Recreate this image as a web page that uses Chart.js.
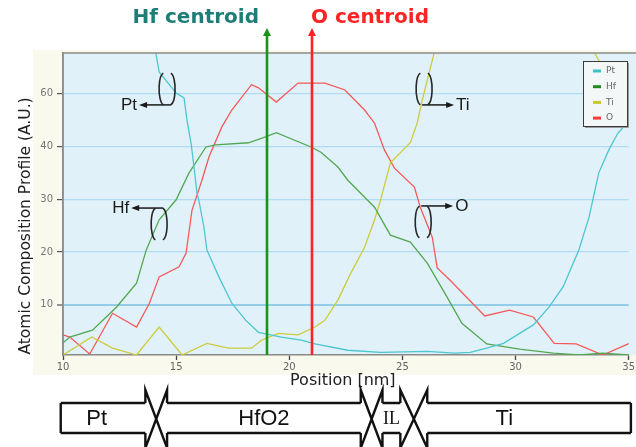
<!DOCTYPE html>
<html>
<head>
<meta charset="utf-8">
<script src="https://cdn.jsdelivr.net/npm/chart.js@4/dist/chart.umd.min.js"></script>
<style>
  html, body { margin: 0; padding: 0; background: #ffffff; }
  canvas { display: block; }
</style>
</head>
<body>
<canvas id="c" width="636" height="447"></canvas>
<script>
// Depth profiles: position (nm) and atomic composition (A.U.) per element
const ptPos = [13.6, 14.25, 15.0, 15.35, 15.48, 15.66, 15.79, 15.92, 16.0, 16.23, 16.36, 16.89, 17.46, 18.07, 18.64, 19.65, 20.53, 21.14, 22.59, 24.04, 26.1, 27.28, 28.0, 28.73, 29.47, 30.79, 31.49, 32.1, 32.8, 33.25, 33.68, 34.12, 34.52, 35.13];
const ptVal = [70, 54.1, 50.1, 49.2, 45.0, 40.6, 36.1, 31.2, 29.9, 24.7, 20.4, 15.3, 10.3, 7.1, 4.8, 3.9, 3.3, 2.6, 1.4, 1.0, 1.2, 0.85, 1.0, 1.8, 2.7, 6.2, 9.6, 13.4, 20.4, 26.6, 35.0, 39.3, 42.5, 45.4];

const hfPos = [10.0, 10.3, 11.3, 12.37, 13.25, 13.68, 14.25, 15.0, 15.57, 16.32, 16.75, 18.2, 18.95, 19.43, 20.96, 21.4, 22.15, 22.59, 23.77, 24.47, 25.35, 26.1, 26.97, 27.63, 28.73, 30.18, 31.67, 32.8, 33.86, 35.0];
const hfVal = [2.8, 3.9, 5.2, 9.6, 14.1, 20.4, 26.1, 29.9, 35.0, 39.9, 40.3, 40.7, 41.8, 42.6, 39.9, 38.9, 36.1, 33.6, 28.5, 23.2, 21.9, 17.9, 11.5, 6.5, 2.6, 1.6, 0.85, 0.5, 0.85, 0.5];

const tiPos = [10.0, 11.27, 12.19, 13.25, 14.25, 15.26, 16.36, 17.32, 18.33, 18.77, 19.52, 20.39, 21.14, 21.58, 22.15, 22.72, 23.33, 23.77, 24.04, 24.47, 25.35, 25.66, 25.88, 26.4, 30.0, 35.0];
const tiVal = [0.5, 3.9, 1.8, 0.5, 5.8, 0.5, 2.7, 1.8, 1.8, 3.3, 4.6, 4.3, 5.8, 7.1, 10.9, 16.0, 20.9, 26.1, 29.9, 36.9, 40.7, 44.5, 48.8, 57.7, 85, 46.0];

const oPos = [10.0, 10.3, 11.18, 12.19, 13.25, 13.82, 14.25, 15.13, 15.44, 15.7, 16.14, 16.45, 17.02, 17.46, 18.33, 18.64, 19.43, 20.39, 21.58, 22.46, 23.33, 23.77, 24.21, 24.65, 25.53, 25.79, 26.32, 26.54, 27.1, 28.64, 29.74, 30.79, 31.71, 32.68, 33.86, 35.13];
const oVal = [4.3, 3.9, 0.7, 8.4, 5.8, 10.3, 15.3, 17.2, 19.8, 27.9, 33.6, 38.0, 43.7, 46.9, 51.7, 51.1, 48.4, 52.0, 52.0, 50.7, 46.9, 44.4, 39.3, 35.9, 32.3, 28.5, 22.8, 17.0, 14.7, 7.9, 9.0, 7.7, 2.7, 2.6, 0.5, 2.9];

// Axis ticks
const xTicks = [10, 15, 20, 25, 30, 35];
const yTickValues = [10, 20, 30, 40, 50];
const yTickLabels = ['10', '20', '30', '40', '60'];

// Centroid positions (nm)
const hfCentroid = 19;
const oCentroid = 21;

// Layer stack under the axis: names and boundaries (nm)
const layerNames = ['Pt', 'HfO2', 'IL', 'Ti'];
const layerEdges = [9.9, 13.64, 14.6, 23.16, 24.12, 24.91, 26.1, 35.1];

// Element call-outs: [label, x (nm), y (A.U.), direction, arrow on top?]
const callouts = [
  ['Pt', 14.6, 50.9, -1, false],
  ['Hf', 14.25, 25.3, -1, true],
  ['Ti', 25.96, 50.9, 1, false],
  ['O', 25.92, 25.7, 1, true]
];

const series = [
  { label: 'Pt', pos: ptPos, val: ptVal, color: '#4cc6cf', key: '#3cc0c8' },
  { label: 'Hf', pos: hfPos, val: hfVal, color: '#52a852', key: '#1f8a1f' },
  { label: 'Ti', pos: tiPos, val: tiVal, color: '#cccc3c', key: '#c8c828' },
  { label: 'O',  pos: oPos,  val: oVal,  color: '#f45a5a', key: '#ff3a3a' }
];

const toPoints = (xs, ys) => xs.map((x, i) => ({ x: x, y: ys[i] }));

const DJ = '"DejaVu Sans", sans-serif';
const LS = '"Liberation Sans", Arial, sans-serif';

const backdrop = {
  id: 'backdrop',
  beforeDraw(chart) {
    const { ctx, chartArea: a } = chart;
    ctx.save();
    ctx.fillStyle = '#ffffff';
    ctx.fillRect(0, 0, chart.width, chart.height);
    ctx.fillStyle = '#f9f9ee';
    ctx.fillRect(33, 50, chart.width - 33, 325);
    ctx.fillStyle = '#e1f1fa';
    ctx.fillRect(a.left, a.top, chart.width - a.left, a.bottom - a.top);
    ctx.restore();
  }
};

function arrowHead(ctx, x, y, dx, dy, len, half) {
  // tip at (x,y), pointing along (dx,dy)
  const px = -dy, py = dx;
  ctx.beginPath();
  ctx.moveTo(x, y);
  ctx.lineTo(x - dx * len + px * half, y - dy * len + py * half);
  ctx.lineTo(x - dx * len - px * half, y - dy * len - py * half);
  ctx.closePath();
  ctx.fill();
}

const overlay = {
  id: 'overlay',
  afterDatasetsDraw(chart) {
    const { ctx, chartArea: a, scales: { x, y } } = chart;
    ctx.save();

    // frame on top and left
    ctx.strokeStyle = '#8a8a8a';
    ctx.lineWidth = 1.5;
    ctx.beginPath();
    ctx.moveTo(a.left, a.bottom);
    ctx.lineTo(a.left, a.top);
    ctx.lineTo(chart.width, a.top);
    ctx.stroke();

    // call-outs: "( )" loop with arrow to element name
    ctx.strokeStyle = '#262626';
    ctx.fillStyle = '#1a1a1a';
    ctx.lineWidth = 1.6;
    callouts.forEach(([name, cx, cy, dir, onTop]) => {
      const px = x.getPixelForValue(cx);
      const py = y.getPixelForValue(cy);
      const h = 16;
      ctx.beginPath();
      ctx.ellipse(px - 3, py, 5, h, 0, Math.PI * 0.55, Math.PI * 1.45);
      ctx.stroke();
      ctx.beginPath();
      ctx.ellipse(px + 3, py, 5, h, 0, -Math.PI * 0.45, Math.PI * 0.45);
      ctx.stroke();
      const ay = onTop ? py - h : py + h;
      const sx = dir < 0 ? px + 4 : px - 2;
      const ex = sx + dir * 32;
      ctx.beginPath();
      ctx.moveTo(sx, ay);
      ctx.lineTo(ex - dir * 6, ay);
      ctx.stroke();
      arrowHead(ctx, ex, ay, dir, 0, 8, 3);
      ctx.font = '17px ' + LS;
      ctx.textBaseline = 'middle';
      ctx.textAlign = dir < 0 ? 'right' : 'left';
      ctx.fillText(name, ex + dir * 2, ay);
    });

    // centroid markers
    const cent = [
      [hfCentroid, '#1b931b', '#1e7d76', 'Hf centroid', 'right', -8],
      [oCentroid, '#ff2424', '#ff2424', 'O centroid', 'left', -1]
    ];
    cent.forEach(([v, lc, tc, text, align, off]) => {
      const px = Math.round(x.getPixelForValue(v));
      ctx.strokeStyle = lc;
      ctx.fillStyle = lc;
      ctx.lineWidth = 2.6;
      ctx.beginPath();
      ctx.moveTo(px, a.bottom);
      ctx.lineTo(px, 34);
      ctx.stroke();
      arrowHead(ctx, px, 28, 0, -1, 8, 4);
      ctx.fillStyle = tc;
      ctx.font = 'bold 20px ' + DJ;
      ctx.textAlign = align;
      ctx.textBaseline = 'middle';
      ctx.fillText(text, px + off, 18);
    });

    // legend box
    const lx = 583, ly = 61, lw = 44, lh = 65;
    ctx.fillStyle = '#f4f7f8';
    ctx.fillRect(lx, ly, lw, lh);
    ctx.strokeStyle = '#3a3a3a';
    ctx.lineWidth = 1;
    ctx.strokeRect(lx + 0.5, ly + 0.5, lw, lh);
    ctx.strokeStyle = '#9a9a9a';
    ctx.beginPath();
    ctx.moveTo(lx + 2, ly + lh + 1.5);
    ctx.lineTo(lx + lw + 1.5, ly + lh + 1.5);
    ctx.lineTo(lx + lw + 1.5, ly + 2);
    ctx.stroke();
    ctx.font = '9px ' + DJ;
    ctx.textAlign = 'left';
    ctx.textBaseline = 'middle';
    series.forEach((s, i) => {
      const ry = ly + 10 + i * 15.7;
      ctx.strokeStyle = s.key;
      ctx.lineWidth = 3;
      ctx.beginPath();
      ctx.moveTo(lx + 10, ry);
      ctx.lineTo(lx + 18, ry);
      ctx.stroke();
      ctx.fillStyle = '#666666';
      ctx.fillText(s.label, lx + 23, ry);
    });

    ctx.restore();
  },
  afterDraw(chart) {
    const { ctx, chartArea: a, scales: { x } } = chart;
    ctx.save();

    // axis titles
    ctx.fillStyle = '#202020';
    ctx.textAlign = 'center';
    ctx.textBaseline = 'middle';
    ctx.font = '16px ' + DJ;
    ctx.fillText('Position [nm]', (x.getPixelForValue(20) + x.getPixelForValue(25)) / 2 - 3, 381);
    ctx.translate(26, 226);
    ctx.rotate(-Math.PI / 2);
    ctx.font = '15.5px ' + DJ;
    ctx.fillText('Atomic Composition Profile (A.U.)', 0, 0);
    ctx.setTransform(1, 0, 0, 1, 0, 0);

    // layer stack
    const top = 403, bot = 433, wTop = 390, wBot = 448;
    const e = layerEdges.map(v => x.getPixelForValue(v));
    ctx.strokeStyle = '#111111';
    ctx.lineWidth = 2.4;
    ctx.lineJoin = 'miter';
    ctx.beginPath();
    ctx.moveTo(e[0], top); ctx.lineTo(e[0], bot);
    ctx.moveTo(e[e.length - 1], top); ctx.lineTo(e[e.length - 1], bot);
    for (let i = 0; i < e.length; i += 2) {
      ctx.moveTo(e[i], top); ctx.lineTo(e[i + 1], top);
      ctx.moveTo(e[i], bot); ctx.lineTo(e[i + 1], bot);
    }
    for (let i = 1; i < e.length - 1; i += 2) {
      const p = e[i], q = e[i + 1];
      ctx.moveTo(p, top); ctx.lineTo(p, wTop); ctx.lineTo(q, wBot); ctx.lineTo(q, bot);
      ctx.moveTo(q, top); ctx.lineTo(q, wTop); ctx.lineTo(p, wBot); ctx.lineTo(p, bot);
    }
    ctx.stroke();

    ctx.fillStyle = '#111111';
    ctx.textBaseline = 'middle';
    ctx.textAlign = 'center';
    const mid = (top + bot) / 2 + 1;
    layerNames.forEach((n, i) => {
      const l = e[i * 2], r = e[i * 2 + 1];
      ctx.font = n === 'IL' ? '18px "Liberation Serif", serif' : '22px ' + LS;
      const cx = n === 'Pt' ? l + 36 : n === 'Ti' ? l + 77 : (l + r) / 2;
      ctx.fillText(n, cx, mid);
    });
    ctx.restore();
  }
};

new Chart(document.getElementById('c'), {
  type: 'line',
  data: {
    datasets: series.map(s => ({
      label: s.label,
      data: toPoints(s.pos, s.val),
      borderColor: s.color,
      backgroundColor: s.color,
      borderWidth: 1.3,
      pointRadius: 0,
      tension: 0,
      fill: false
    }))
  },
  options: {
    responsive: false,
    animation: false,
    events: [],
    layout: { padding: { left: 0, right: 3, top: 53, bottom: 77 } },
    scales: {
      x: {
        type: 'linear',
        min: 10,
        max: 35,
        afterBuildTicks: s => { s.ticks = xTicks.map(v => ({ value: v })); },
        afterFit: s => { s.height = 15; },
        ticks: { color: '#666666', font: { size: 10, family: DJ }, padding: 1, maxRotation: 0 },
        grid: { drawOnChartArea: false, tickLength: 5, tickColor: '#444444', tickWidth: 1.3 },
        border: { color: '#8a8a8a', width: 1.5 }
      },
      y: {
        type: 'linear',
        min: 0.5,
        max: 57.7,
        afterBuildTicks: s => { s.ticks = yTickValues.map(v => ({ value: v })); },
        afterFit: s => { s.width = 63; },
        ticks: {
          color: '#777777',
          font: { size: 10, family: DJ },
          padding: 4,
          callback: (v, i) => yTickLabels[i]
        },
        grid: {
          color: c => (c.tick && c.tick.value === 10 ? '#92cdea' : '#b2dcf2'),
          lineWidth: c => (c.tick && c.tick.value === 10 ? 2 : 1.2),
          tickLength: 6,
          tickColor: '#555555',
          tickWidth: 1.2
        },
        border: { color: '#8a8a8a', width: 1.5 }
      }
    },
    plugins: { legend: { display: false }, tooltip: { enabled: false } }
  },
  plugins: [backdrop, overlay]
});
</script>
</body>
</html>
